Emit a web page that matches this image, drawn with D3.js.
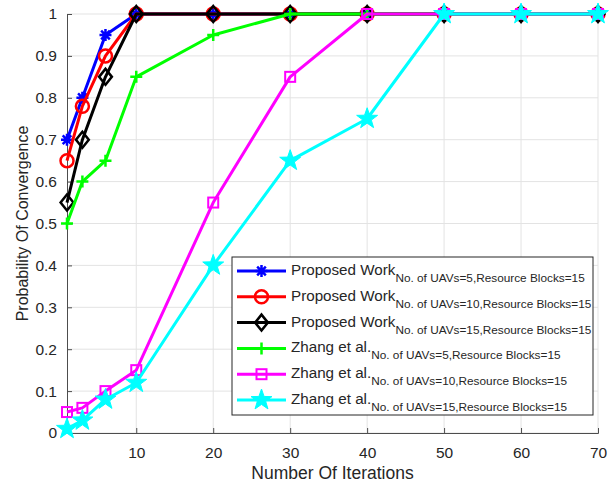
<!DOCTYPE html>
<html>
<head>
<meta charset="utf-8">
<script src="https://cdn.jsdelivr.net/npm/d3@7"></script>
<style>
  body { margin: 0; background: #fff; }
  text { font-family: "Liberation Sans", Arial, sans-serif; fill: #262626; }
</style>
</head>
<body>
<div id="chart"></div>
<script>
// data
const iterations = [1, 3, 6, 10, 20, 30, 40, 50, 60, 70];
const proposed5  = [0.70, 0.80, 0.95, 1, 1, 1, 1, 1, 1, 1];
const proposed10 = [0.65, 0.78, 0.90, 1, 1, 1, 1, 1, 1, 1];
const proposed15 = [0.55, 0.70, 0.85, 1, 1, 1, 1, 1, 1, 1];
const zhang5     = [0.50, 0.60, 0.65, 0.85, 0.95, 1, 1, 1, 1, 1];
const zhang10    = [0.05, 0.06, 0.10, 0.15, 0.55, 0.85, 1, 1, 1, 1];
const zhang15    = [0.01, 0.03, 0.08, 0.12, 0.40, 0.65, 0.75, 1, 1, 1];
const xTicks = [10, 20, 30, 40, 50, 60, 70];
const yTicks = d3.range(0, 11).map(d => d / 10);

const series = [
  { main: "Proposed Work", sub: "No. of UAVs=5,Resource Blocks=15",  values: proposed5,  color: "#0000ff", marker: "asterisk" },
  { main: "Proposed Work", sub: "No. of UAVs=10,Resource Blocks=15", values: proposed10, color: "#ff0000", marker: "circle" },
  { main: "Proposed Work", sub: "No. of UAVs=15,Resource Blocks=15", values: proposed15, color: "#000000", marker: "diamond" },
  { main: "Zhang et al.",  sub: "No. of UAVs=5,Resource Blocks=15",  values: zhang5,     color: "#00ff00", marker: "plus" },
  { main: "Zhang et al.",  sub: "No. of UAVs=10,Resource Blocks=15", values: zhang10,    color: "#ff00ff", marker: "square" },
  { main: "Zhang et al.",  sub: "No. of UAVs=15,Resource Blocks=15", values: zhang15,    color: "#00ffff", marker: "star" }
];

const width = 612, height = 483;
const margin = { top: 14, right: 14, bottom: 50, left: 67 };
const innerW = width - margin.left - margin.right;
const innerH = height - margin.top - margin.bottom;

const x = d3.scaleLinear().domain([1, 70]).range([0, innerW]);
const y = d3.scaleLinear().domain([0, 1]).range([innerH, 0]);

const svg = d3.select("#chart").append("svg")
    .attr("width", width)
    .attr("height", height);
const g = svg.append("g")
    .attr("transform", `translate(${margin.left},${margin.top})`);

// grid
g.append("g").selectAll("line").data(xTicks).enter().append("line")
    .attr("x1", d => x(d)).attr("x2", d => x(d))
    .attr("y1", 0).attr("y2", innerH)
    .attr("stroke", "#e3e3e3").attr("stroke-width", 1);
g.append("g").selectAll("line").data(yTicks).enter().append("line")
    .attr("x1", 0).attr("x2", innerW)
    .attr("y1", d => y(d)).attr("y2", d => y(d))
    .attr("stroke", "#e3e3e3").attr("stroke-width", 1);

// axes (ticks inward like MATLAB)
const xAxis = g.append("g")
    .attr("transform", `translate(0,${innerH})`)
    .call(d3.axisBottom(x).tickValues(xTicks).tickSizeInner(-5).tickSizeOuter(-5).tickPadding(14));
const yAxis = g.append("g")
    .call(d3.axisLeft(y).tickValues(yTicks).tickFormat(d => d === 0 || d === 1 ? d3.format("d")(d) : d3.format(".1f")(d))
      .tickSizeInner(-5).tickSizeOuter(-5).tickPadding(10));
[xAxis, yAxis].forEach(a => {
  a.select(".domain").attr("stroke", "#4d4d4d");
  a.selectAll(".tick line").attr("stroke", "#4d4d4d");
  a.selectAll(".tick text").style("font-size", "15.5px").attr("fill", "#262626")
    .style("font-family", "'Liberation Sans', Arial, sans-serif");
});

// axis labels
svg.append("text")
    .attr("x", margin.left + innerW / 2)
    .attr("y", 479)
    .attr("text-anchor", "middle")
    .style("font-size", "17.5px")
    .text("Number Of Iterations");
svg.append("text")
    .attr("transform", `translate(28,${margin.top + innerH / 2}) rotate(-90)`)
    .attr("text-anchor", "middle")
    .style("font-size", "16px")
    .text("Probability Of Convergence");

// marker shapes
function drawMarker(sel, type, color) {
  if (type === "asterisk") {
    const r = 6, d = r * 0.72;
    sel.append("path")
      .attr("d", `M${-r},0L${r},0M0,${-r}L0,${r}M${-d},${-d}L${d},${d}M${-d},${d}L${d},${-d}`)
      .attr("stroke", color).attr("stroke-width", 2.5).attr("fill", "none");
  } else if (type === "circle") {
    sel.append("circle").attr("r", 6.5)
      .attr("stroke", color).attr("stroke-width", 2.5).attr("fill", "none");
  } else if (type === "diamond") {
    const r = 8;
    sel.append("path").attr("d", `M0,${-r}L${r * 0.8},0L0,${r}L${-r * 0.8},0Z`)
      .attr("stroke", color).attr("stroke-width", 2.5).attr("fill", "none");
  } else if (type === "plus") {
    const r = 6;
    sel.append("path").attr("d", `M${-r},0L${r},0M0,${-r}L0,${r}`)
      .attr("stroke", color).attr("stroke-width", 2.5).attr("fill", "none");
  } else if (type === "square") {
    const r = 5;
    sel.append("rect").attr("x", -r).attr("y", -r).attr("width", 2 * r).attr("height", 2 * r)
      .attr("stroke", color).attr("stroke-width", 2).attr("fill", "none");
  } else if (type === "star") {
    const pts = d3.range(10).map(i => {
      const rr = i % 2 === 0 ? 11 : 4.4;
      const a = -Math.PI / 2 + i * Math.PI / 5;
      return [rr * Math.cos(a), rr * Math.sin(a)];
    });
    sel.append("path").attr("d", "M" + pts.join("L") + "Z")
      .attr("fill", color).attr("stroke", color).attr("stroke-width", 1);
  }
}

// lines and markers
const line = d3.line().x((d, i) => x(iterations[i])).y(d => y(d));
series.forEach(s => {
  const sg = g.append("g");
  sg.append("path")
    .datum(s.values)
    .attr("d", line)
    .attr("fill", "none")
    .attr("stroke", s.color)
    .attr("stroke-width", 3)
    .attr("stroke-linejoin", "round");
  s.values.forEach((v, i) => {
    const m = sg.append("g").attr("transform", `translate(${x(iterations[i])},${y(v)})`);
    drawMarker(m, s.marker, s.color);
  });
});

// legend
const legend = svg.append("g").attr("transform", "translate(232,257)");
legend.append("rect")
    .attr("width", 361).attr("height", 158)
    .attr("fill", "#fff").attr("stroke", "#262626").attr("stroke-width", 1);
series.forEach((s, i) => {
  const row = legend.append("g").attr("transform", `translate(0,${14 + i * 25.8})`);
  row.append("line").attr("x1", 5).attr("x2", 54).attr("y1", 0).attr("y2", 0)
    .attr("stroke", s.color).attr("stroke-width", 3);
  drawMarker(row.append("g").attr("transform", "translate(29.5,0)"), s.marker, s.color);
  const t = row.append("text").attr("x", 59).attr("y", 4).style("font-size", "15.2px");
  t.append("tspan").text(s.main);
  t.append("tspan").attr("dy", 7).style("font-size", "11.8px").text(s.sub);
});
</script>
</body>
</html>
